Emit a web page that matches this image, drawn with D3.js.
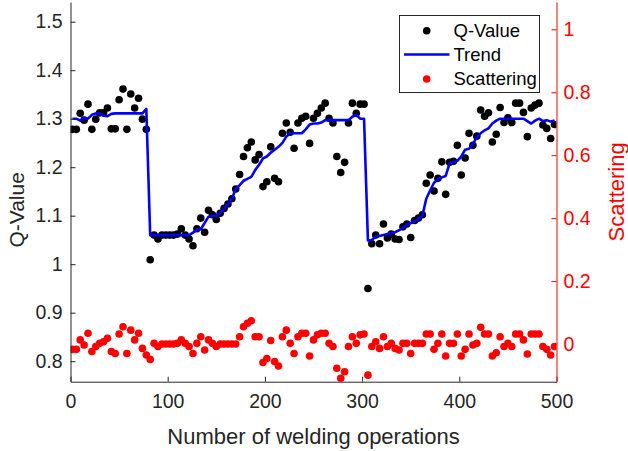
<!DOCTYPE html>
<html>
<head>
<meta charset="utf-8">
<script src="https://cdn.jsdelivr.net/npm/d3@7"></script>
<style>
  html, body { margin: 0; padding: 0; background: #fff; }
  svg { display: block; font-family: "Liberation Sans", Arial, Helvetica, sans-serif; }
</style>
</head>
<body>
<svg id="chart" width="628" height="451"></svg>
<script>
// Weld counts at which the Q-value was sampled
const welds = [
  2, 6, 10, 14, 18, 22, 26, 30, 34, 38, 42, 46, 50, 54, 58, 62, 66, 70, 74, 78,
  82, 86, 90, 94, 98, 102, 106, 110, 114, 118, 122, 126, 130, 134, 138, 142, 146, 150, 154, 158,
  162, 166, 170, 174, 178, 182, 186, 190, 194, 198, 202, 206, 210, 214, 218, 222, 226, 230, 234, 238,
  242, 246, 250, 254, 258, 262, 266, 270, 274, 278, 282, 286, 290, 294, 298, 302, 306, 310, 314, 318,
  322, 326, 330, 334, 338, 342, 346, 350, 354, 358, 362, 366, 370, 374, 378, 382, 386, 390, 394, 398,
  402, 406, 410, 414, 418, 422, 426, 430, 434, 438, 442, 446, 450, 454, 458, 462, 466, 470, 474, 478,
  482, 486, 490, 494, 498
];

// Measured Q-value per sample
const qValues = [
  1.278, 1.278, 1.311, 1.297, 1.330, 1.278, 1.299, 1.312, 1.312, 1.322, 1.279, 1.279, 1.339, 1.361, 1.278, 1.351, 1.322, 1.342, 1.299, 1.278,
  1.009, 1.060, 1.052, 1.060, 1.060, 1.060, 1.060, 1.062, 1.073, 1.060, 1.052, 1.038, 1.073, 1.095, 1.066, 1.111, 1.102, 1.092, 1.105, 1.115,
  1.124, 1.135, 1.155, 1.185, 1.222, 1.240, 1.252, 1.215, 1.226, 1.160, 1.170, 1.242, 1.177, 1.170, 1.270, 1.291, 1.272, 1.239, 1.291, 1.301,
  1.305, 1.249, 1.301, 1.311, 1.322, 1.332, 1.301, 1.291, 1.222, 1.189, 1.210, 1.291, 1.332, 1.311, 1.330, 1.330, 0.950, 1.042, 1.060, 1.042,
  1.083, 1.054, 1.062, 1.052, 1.051, 1.077, 1.083, 1.055, 1.090, 1.095, 1.102, 1.167, 1.184, 1.151, 1.177, 1.211, 1.144, 1.210, 1.212, 1.245,
  1.184, 1.219, 1.270, 1.245, 1.264, 1.318, 1.305, 1.312, 1.252, 1.268, 1.323, 1.292, 1.302, 1.292, 1.332, 1.332, 1.313, 1.263, 1.322, 1.328,
  1.332, 1.287, 1.280, 1.259, 1.288
];

// Smoothed trend of the Q-value
const trendValues = [
  1.300, 1.300, 1.296, 1.302, 1.300, 1.308, 1.311, 1.311, 1.306, 1.305, 1.310, 1.311, 1.311, 1.311, 1.311, 1.311, 1.311, 1.311, 1.311, 1.320,
  1.060, 1.060, 1.060, 1.060, 1.060, 1.060, 1.060, 1.060, 1.060, 1.060, 1.060, 1.065, 1.071, 1.072, 1.085, 1.098, 1.100, 1.100, 1.105, 1.115,
  1.124, 1.135, 1.155, 1.163, 1.172, 1.176, 1.180, 1.194, 1.205, 1.218, 1.222, 1.230, 1.236, 1.242, 1.250, 1.263, 1.270, 1.270, 1.270, 1.270,
  1.278, 1.288, 1.290, 1.290, 1.292, 1.297, 1.297, 1.297, 1.297, 1.297, 1.297, 1.297, 1.304, 1.308, 1.300, 1.300, 1.049, 1.050, 1.057, 1.058,
  1.060, 1.062, 1.064, 1.066, 1.070, 1.075, 1.081, 1.085, 1.088, 1.093, 1.100, 1.135, 1.152, 1.168, 1.175, 1.179, 1.182, 1.208, 1.210, 1.213,
  1.222, 1.236, 1.238, 1.248, 1.262, 1.270, 1.276, 1.280, 1.290, 1.296, 1.300, 1.300, 1.300, 1.300, 1.300, 1.300, 1.300, 1.295, 1.290, 1.296,
  1.300, 1.295, 1.297, 1.294, 1.296
];

// Scattering of each sample around the trend (right axis)
const scatterValues = [
  -0.017, -0.017, 0.013, -0.003, 0.034, -0.024, -0.008, 0.002, 0.007, 0.018, -0.024, -0.030, 0.032, 0.055, -0.030, 0.044, 0.013, 0.034, -0.014, -0.035,
  -0.049, 0.002, -0.008, 0.000, 0.000, 0.000, 0.000, 0.002, 0.013, 0.002, -0.008, -0.030, 0.002, 0.023, -0.019, 0.013, 0.002, -0.008, 0.000, 0.000,
  0.000, 0.000, 0.000, 0.023, 0.055, 0.066, 0.074, 0.023, 0.023, -0.059, -0.046, 0.011, -0.056, -0.070, 0.023, 0.044, 0.002, -0.030, 0.023, 0.034,
  0.034, -0.038, 0.013, 0.029, 0.034, 0.034, 0.002, -0.008, -0.077, -0.109, -0.088, -0.008, 0.023, 0.002, 0.029, 0.032, -0.099, -0.008, 0.007, -0.014,
  0.023, -0.008, 0.002, -0.014, -0.019, 0.002, 0.002, -0.030, 0.002, 0.002, 0.002, 0.032, 0.032, -0.017, 0.002, 0.032, -0.038, 0.002, 0.002, 0.032,
  -0.038, -0.017, 0.032, -0.003, 0.002, 0.053, 0.032, 0.032, -0.038, -0.028, 0.023, -0.008, 0.002, -0.008, 0.032, 0.032, 0.013, -0.032, 0.032, 0.032,
  0.032, -0.008, -0.017, -0.035, -0.008
];

// Axis ticks and labels
const xTicks = [0, 100, 200, 300, 400, 500];
const qTicks = [0.8, 0.9, 1.0, 1.1, 1.2, 1.3, 1.4, 1.5];
const qTickLabels = ["0.8", "0.9", "1", "1.1", "1.2", "1.3", "1.4", "1.5"];
const sTicks = [0, 0.2, 0.4, 0.6, 0.8, 1.0];
const sTickLabels = ["0", "0.2", "0.4", "0.6", "0.8", "1"];
const legendLabels = ["Q-Value", "Trend", "Scattering"];
const xLabel = "Number of welding operations";
const qLabel = "Q-Value";
const sLabel = "Scattering";

const axisGray = "#262626";
const red = "#ff0000";
const blue = "#0000ff";
const dotR = 3.8;

const svg = d3.select("#chart");
const plotLeft = 70.5, plotRight = 556.5, plotTop = 2, plotBottom = 381.7;

const x = d3.scaleLinear().domain([0, 500]).range([plotLeft, plotRight]);
const yQ = d3.scaleLinear().domain([0.7577, 1.5406]).range([plotBottom, plotTop]);
const yS = d3.scaleLinear().domain([-0.1198, 1.0868]).range([plotBottom, plotTop]);

const rows = welds.map((w, i) => ({ w, q: qValues[i], t: trendValues[i], s: scatterValues[i] }));

// Plot area clip
svg.append("defs").append("clipPath").attr("id", "plotClip")
  .append("rect").attr("x", plotLeft).attr("y", plotTop)
  .attr("width", plotRight - plotLeft).attr("height", plotBottom - plotTop);

const plot = svg.append("g").attr("clip-path", "url(#plotClip)");

// Scattering points (right axis)
plot.append("g").selectAll("circle").data(rows).join("circle")
  .attr("cx", d => x(d.w)).attr("cy", d => yS(d.s)).attr("r", dotR).attr("fill", red);

// Q-value points
plot.append("g").selectAll("circle").data(rows).join("circle")
  .attr("cx", d => x(d.w)).attr("cy", d => yQ(d.q)).attr("r", dotR).attr("fill", "#000");

// Trend line
plot.append("path").datum(rows)
  .attr("fill", "none").attr("stroke", blue).attr("stroke-width", 2.6)
  .attr("stroke-linejoin", "round")
  .attr("d", d3.line().x(d => x(d.w)).y(d => yQ(d.t)));

// Axes
function styleAxis(g, color, size) {
  g.select(".domain").attr("stroke", color).attr("stroke-width", 1);
  g.selectAll(".tick line").attr("stroke", color);
  g.selectAll(".tick text").attr("fill", color).attr("font-size", size)
    .attr("font-family", "\"Liberation Sans\", Arial, sans-serif");
}

const xAxis = svg.append("g").attr("transform", `translate(0,${plotBottom})`)
  .call(d3.axisBottom(x).tickValues(xTicks).tickFormat(d3.format("d"))
    .tickSizeInner(-5).tickSizeOuter(0).tickPadding(12));
styleAxis(xAxis, axisGray, "19.5px");

const yAxisL = svg.append("g").attr("transform", `translate(${plotLeft},0)`)
  .call(d3.axisLeft(yQ).tickValues(qTicks).tickFormat((d, i) => qTickLabels[i])
    .tickSizeInner(-5).tickSizeOuter(0).tickPadding(8));
styleAxis(yAxisL, axisGray, "19.5px");

const yAxisR = svg.append("g").attr("transform", `translate(${plotRight},0)`)
  .call(d3.axisRight(yS).tickValues(sTicks).tickFormat((d, i) => sTickLabels[i])
    .tickSizeInner(-5).tickSizeOuter(0).tickPadding(7));
styleAxis(yAxisR, red, "19.5px");

// Axis titles
svg.append("text").attr("x", (plotLeft + plotRight) / 2).attr("y", 444)
  .attr("text-anchor", "middle").attr("fill", axisGray).attr("font-size", "22px")
  .text(xLabel);

svg.append("text").attr("transform", `translate(24,${(plotTop + plotBottom) / 2 + 18}) rotate(-90)`)
  .attr("text-anchor", "middle").attr("fill", axisGray).attr("font-size", "21px")
  .text(qLabel);

svg.append("text").attr("transform", `translate(624,${(plotTop + plotBottom) / 2}) rotate(-90)`)
  .attr("text-anchor", "middle").attr("fill", red).attr("font-size", "22px")
  .text(sLabel);

// Legend
const lg = svg.append("g");
lg.append("rect").attr("x", 399.5).attr("y", 15.5).attr("width", 140).attr("height", 77)
  .attr("fill", "#fff").attr("stroke", axisGray).attr("stroke-width", 1);
const legendY = [30.7, 54.5, 79];
lg.append("circle").attr("cx", 426.7).attr("cy", legendY[0]).attr("r", dotR).attr("fill", "#000");
lg.append("line").attr("x1", 404).attr("x2", 449.5).attr("y1", legendY[1]).attr("y2", legendY[1])
  .attr("stroke", blue).attr("stroke-width", 2.6);
lg.append("circle").attr("cx", 426.7).attr("cy", legendY[2]).attr("r", dotR).attr("fill", red);
lg.selectAll("text.lab").data(legendLabels).join("text").attr("class", "lab")
  .attr("x", 453.5).attr("y", (d, i) => legendY[i]).attr("dy", "0.35em")
  .attr("fill", "#000").attr("font-size", "18.5px").text(d => d);
</script>
</body>
</html>
